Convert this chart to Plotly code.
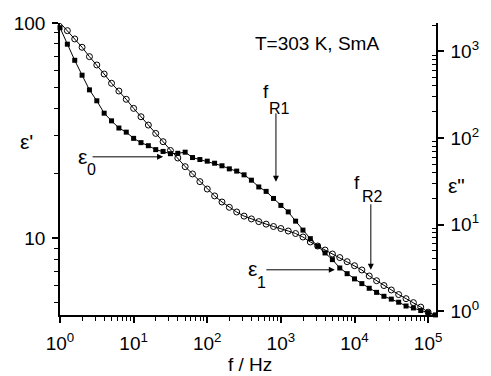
import plotly.graph_objects as go

# ---- data ----
freq = [1.0, 1.259, 1.585, 1.995, 2.512, 3.162, 3.981, 5.012, 6.310, 7.943,
        10, 12.59, 15.85, 19.95, 25.12, 31.62, 39.81, 50.12, 63.10, 79.43,
        100, 125.9, 158.5, 199.5, 251.2, 316.2, 398.1, 501.2, 631.0, 794.3,
        1000, 1259, 1585, 1995, 2512, 3162, 3981, 5012, 6310, 7943,
        10000, 12589, 15849, 19953, 25119, 31623, 39811, 50119, 63096, 79433,
        100000, 125893]

eps_real = [95.1, 79.7, 67.1, 57.2, 48.9, 43.5, 38.1, 35.1, 32.5, 31.1,
            29.1, 27.8, 26.9, 25.8, 25.3, 24.7, 24.8, 25.1, 23.7, 23.2,
            22.8, 22.3, 21.7, 21.0, 20.5, 19.7, 18.6, 17.3, 16.5, 15.3,
            14.2, 13.25, 12.0, 10.9, 9.95, 9.18, 8.54, 7.95, 7.27, 6.84,
            6.47, 6.15, 5.85, 5.60, 5.37, 5.21, 5.04, 4.84, 4.74, 4.61,
            4.51, 4.40]

eps_imag = [2150, 1740, 1395, 1118, 871, 698, 549, 429, 349, 280,
            220, 176, 141, 113, 90.6, 71.7, 58.7, 46.6, 38.4, 31.3,
            25.7, 21.4, 18.2, 15.8, 13.95, 12.5, 11.6, 10.8, 10.1, 9.48,
            8.99, 8.41, 7.87, 7.17, 6.28, 5.64, 5.07, 4.56, 4.15, 3.72,
            3.34, 2.98, 2.54, 2.24, 1.97, 1.75, 1.55, 1.39, 1.25, 1.11,
            0.97, 0.88]

x_tickvals = [1, 10, 100, 1000, 10000, 100000]
x_ticktext = ["10<sup>0</sup>", "10<sup>1</sup>", "10<sup>2</sup>",
              "10<sup>3</sup>", "10<sup>4</sup>", "10<sup>5</sup>"]
y1_tickvals = [10, 100]
y1_ticktext = ["10", "100"]
y2_tickvals = [1, 10, 100, 1000]
y2_ticktext = ["10<sup>0</sup>", "10<sup>1</sup>", "10<sup>2</sup>", "10<sup>3</sup>"]

FONT = "Liberation Sans, Arial, Helvetica, sans-serif"

def minors(lo_dec, hi_dec, extra=()):
    vals = []
    for d in range(lo_dec, hi_dec):
        for m in range(2, 10):
            vals.append(m * 10 ** d)
    return vals + list(extra)

fig = go.Figure()
fig.add_trace(go.Scatter(
    x=freq, y=eps_real, mode="lines+markers", yaxis="y",
    line=dict(color="black", width=1),
    marker=dict(symbol="square", size=5, color="black"),
    cliponaxis=False, showlegend=False))
fig.add_trace(go.Scatter(
    x=freq, y=eps_imag, mode="lines+markers", yaxis="y2",
    line=dict(color="black", width=1),
    marker=dict(symbol="circle-open", size=6, color="black", line=dict(width=1)),
    cliponaxis=False, showlegend=False))

L, R, T, B = 60, 443, 23, 315
W, H = 491, 376

fig.update_layout(
    width=W, height=H,
    margin=dict(l=L, r=W - R, t=T, b=H - B),
    paper_bgcolor="white", plot_bgcolor="white",
    font=dict(family=FONT, size=19, color="black"),
    xaxis=dict(type="log", range=[0, 5.107], showgrid=False, zeroline=False,
               showline=True, linecolor="black", linewidth=1.5, mirror=False,
               tickvals=x_tickvals, ticktext=x_ticktext, ticks="outside",
               ticklen=6, tickwidth=1.5, tickcolor="black", ticklabelstandoff=4,
               tickfont=dict(family=FONT, size=19, color="black"),
               minor=dict(tickvals=minors(0, 5), ticks="outside", ticklen=4,
                          tickwidth=1, tickcolor="black", showgrid=False)),
    yaxis=dict(type="log", range=[0.643, 2.0], showgrid=False, zeroline=False,
               showline=True, linecolor="black", linewidth=1.5,
               tickvals=y1_tickvals, ticktext=y1_ticktext, ticks="outside",
               ticklen=6, tickwidth=1.5, tickcolor="black", ticklabelstandoff=3,
               tickfont=dict(family=FONT, size=19, color="black"),
               minor=dict(tickvals=minors(0, 2), ticks="outside", ticklen=4,
                          tickwidth=1, tickcolor="black", showgrid=False)),
    yaxis2=dict(type="log", range=[-0.046, 3.329], overlaying="y", side="right",
                showgrid=False, zeroline=False, showline=True, linecolor="black",
                linewidth=1.5, tickvals=y2_tickvals, ticktext=y2_ticktext,
                ticks="outside", ticklen=6, tickwidth=1.5, tickcolor="black",
                ticklabelstandoff=3,
                tickfont=dict(family=FONT, size=19, color="black"),
                minor=dict(tickvals=minors(0, 3, extra=(2000,)), ticks="inside",
                           ticklen=4, tickwidth=1, tickcolor="black", showgrid=False)),
)

def px(x):
    return (x - L) / (R - L)

def py(y):
    return (B - y) / (B - T)

def label(text, x, y, size=18):
    fig.add_annotation(text=text, xref="paper", yref="paper", x=px(x), y=py(y),
                       showarrow=False, xanchor="center", yanchor="middle",
                       font=dict(family=FONT, size=size, color="black"))

label("T=303 K, SmA", 322, 44, 19)
label("ε'", 26, 141, 21)
label("ε\"", 464, 185, 21)
label("f / Hz", 254, 364, 19)
label("ε", 83, 157, 21)
label("0", 92, 169, 16)
label("f", 270, 92, 19)
label("R1", 284, 108, 16)
label("f", 363, 182, 19)
label("R2", 378, 197, 16)
label("ε", 256, 268, 21)
label("1", 265, 282, 16)

def arrow(xlog, ylog, ax, ay):
    fig.add_annotation(x=xlog, y=ylog, xref="x", yref="y", ax=ax, ay=ay,
                       axref="pixel", ayref="pixel", text="", showarrow=True,
                       arrowhead=2, arrowsize=1.2, arrowwidth=1, arrowcolor="black")

arrow(1.40, 1.378, -72, 0)     # epsilon_0
arrow(2.933, 1.262, 0, -70)    # f_R1
arrow(4.222, 0.853, 0, -67)    # f_R2
arrow(3.733, 0.853, -70, 0)    # epsilon_1

fig.write_html("out.html")
